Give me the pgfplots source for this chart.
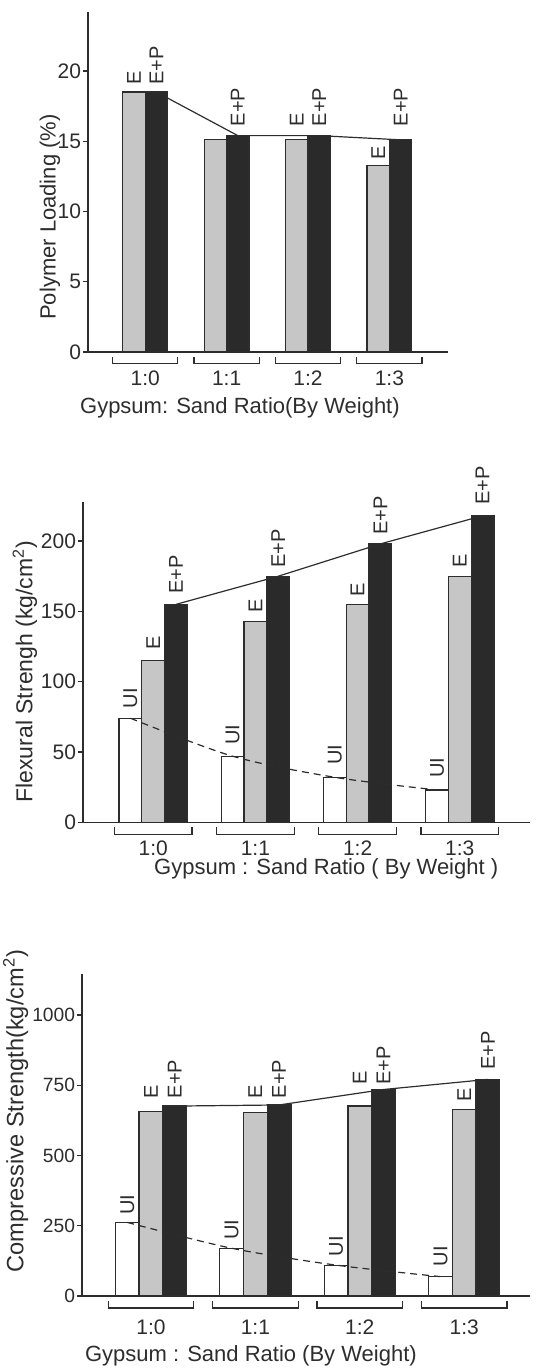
\documentclass[border=0pt]{standalone}
\usepackage{pgfplots}
\pgfplotsset{compat=1.18}
\usepackage{fontspec}
\setmainfont{Liberation Sans}
\definecolor{Egray}{RGB}{198,198,198}
\definecolor{EPdark}{RGB}{42,42,42}
\definecolor{ink}{RGB}{45,45,45}
\tikzset{brk/.style={ink, line width=0.6pt}}
\pgfplotsset{
  panel/.style={
    scale only axis,
    axis lines=left,
    axis line style={-, ink, line width=0.8pt},
    clip=false,
    xtick={0,1,2,3},
    xticklabels={1:0,1:1,1:2,1:3},
    xtick style={draw=none},
    ytick style={ink, line width=0.7pt},
    tick align=outside,
    major tick length=2.5pt,
    ymin=0,
    /pgf/number format/assume math mode=true,
    /pgf/number format/1000 sep={},
    tick label style={font=\fontsize{10.5}{12}\selectfont, text=ink},
    yticklabel style={inner xsep=0.8pt},
    label style={font=\fontsize{11}{13}\selectfont, text=ink},
    xticklabel style={anchor=center},
  },
  barUI/.style={ybar, bar shift=0pt, fill=white, draw=ink, line width=0.6pt},
  barE/.style={ybar, bar shift=0pt, fill=Egray, draw=ink, line width=0.6pt},
  barEP/.style={ybar, bar shift=0pt, fill=EPdark, draw=ink, line width=0.6pt},
  lab/.style={draw=none, mark=none, nodes near coords={#1},
    every node near coord/.append style={rotate=90, anchor=west, inner sep=0pt,
      font=\fontsize{10}{12}\selectfont, text=ink}},
  topline/.style={ink, line width=0.6pt, mark=none, sharp plot},
  uiline/.style={ink, line width=0.6pt, mark=none, smooth, dash pattern=on 3.5pt off 2.5pt},
}
\begin{document}
\begin{tikzpicture}
\useasboundingbox (0,0) rectangle (269.5pt,-684.5pt);
% ---------------- Panel 1 ----------------
\begin{axis}[panel,
  at={(44pt,-176pt)}, anchor=south west,
  width=180pt, height=170pt,
  xmin=-0.703, xmax=3.72, ymax=24.2,
  ytick={0,5,10,15,20},
  bar width=0.276,
  xticklabel style={yshift=-10.5pt},
  ylabel={Polymer Loading (\%)},
  ylabel style={at={(axis description cs:-0.106,0.397)}, anchor=center},
  xlabel={Gypsum: Sand Ratio(By Weight)},
  xlabel style={at={(axis description cs:0.422,-0.165)}, anchor=center},
]
\addplot[barE] coordinates {(-0.138,18.5) (0.862,15.1) (1.862,15.1) (2.862,13.25)};
\addplot[barEP] coordinates {(0.138,18.5) (1.138,15.4) (2.138,15.4) (3.138,15.1)};
\addplot[topline] coordinates {(0.138,18.5) (1.138,15.4) (2.138,15.4) (3.138,15.1)};
\addplot[lab=E] coordinates {(-0.138,19.0) (1.862,16.04) (2.862,13.67)};
\addplot[lab=E+P] coordinates {(0.138,19.0) (1.138,16.04) (2.138,16.04) (3.138,16.04)};
\draw[brk] ([yshift=-2.5pt]axis cs:-0.4,0) -- ([yshift=-5.8pt]axis cs:-0.4,0) -- ([yshift=-5.8pt]axis cs:0.4,0) -- ([yshift=-2.5pt]axis cs:0.4,0);
\draw[brk] ([yshift=-2.5pt]axis cs:0.6,0) -- ([yshift=-5.8pt]axis cs:0.6,0) -- ([yshift=-5.8pt]axis cs:1.4,0) -- ([yshift=-2.5pt]axis cs:1.4,0);
\draw[brk] ([yshift=-2.5pt]axis cs:1.6,0) -- ([yshift=-5.8pt]axis cs:1.6,0) -- ([yshift=-5.8pt]axis cs:2.4,0) -- ([yshift=-2.5pt]axis cs:2.4,0);
\draw[brk] ([yshift=-2.5pt]axis cs:2.6,0) -- ([yshift=-5.8pt]axis cs:2.6,0) -- ([yshift=-5.8pt]axis cs:3.4,0) -- ([yshift=-2.5pt]axis cs:3.4,0);
\end{axis}
% ---------------- Panel 2 ----------------
\begin{axis}[panel,
  at={(41.5pt,-411.15pt)}, anchor=south west,
  width=223.5pt, height=160.3pt,
  xmin=-0.687, xmax=3.687, ymax=228,
  ytick={0,50,100,150,200},
  bar width=0.223,
  xticklabel style={yshift=-10.5pt},
  ylabel={Flexural Strengh (kg/cm\textsuperscript{2})},
  ylabel style={at={(axis description cs:-0.13,0.47)}, anchor=center, font=\fontsize{11.5}{13}\selectfont},
  xlabel={Gypsum : Sand Ratio ( By Weight )},
  xlabel style={at={(axis description cs:0.544,-0.145)}, anchor=center},
]
\addplot[barUI] coordinates {(-0.223,74) (0.777,47) (1.777,32) (2.777,23)};
\addplot[barE] coordinates {(0,115) (1,143) (2,155) (3,175)};
\addplot[barEP] coordinates {(0.223,155) (1.223,175) (2.223,198) (3.223,218)};
\addplot[topline] coordinates {(0.223,155) (1.223,175) (2.223,198) (3.223,218)};
\addplot[uiline] coordinates {(-0.223,74) (0.777,47) (1.777,32) (2.777,23)};
\addplot[lab=UI] coordinates {(-0.223,81) (0.777,55) (1.777,40.8) (2.777,31.3)};
\addplot[lab=E] coordinates {(0,122.5) (1,148.6) (2,160.4) (3,180.6)};
\addplot[lab=E+P] coordinates {(0.223,162.3) (1.223,180.6) (2.223,204.3) (3.223,225.6)};
\draw[brk] ([yshift=-2.5pt]axis cs:-0.38,0) -- ([yshift=-6pt]axis cs:-0.38,0) -- ([yshift=-6pt]axis cs:0.38,0) -- ([yshift=-2.5pt]axis cs:0.38,0);
\draw[brk] ([yshift=-2.5pt]axis cs:0.62,0) -- ([yshift=-6pt]axis cs:0.62,0) -- ([yshift=-6pt]axis cs:1.38,0) -- ([yshift=-2.5pt]axis cs:1.38,0);
\draw[brk] ([yshift=-2.5pt]axis cs:1.62,0) -- ([yshift=-6pt]axis cs:1.62,0) -- ([yshift=-6pt]axis cs:2.38,0) -- ([yshift=-2.5pt]axis cs:2.38,0);
\draw[brk] ([yshift=-2.5pt]axis cs:2.62,0) -- ([yshift=-6pt]axis cs:2.62,0) -- ([yshift=-6pt]axis cs:3.38,0) -- ([yshift=-2.5pt]axis cs:3.38,0);
\end{axis}
% ---------------- Panel 3 ----------------
\begin{axis}[panel,
  at={(41pt,-648pt)}, anchor=south west,
  width=224pt, height=160.85pt,
  xmin=-0.66, xmax=3.63, ymax=1145,
  ytick={0,250,500,750,1000},
  yticklabel style={font=\fontsize{9.6}{11}\selectfont},
  bar width=0.227,
  xticklabel style={yshift=-13pt},
  ylabel={Compressive Strength(kg/cm\textsuperscript{2})},
  ylabel style={at={(axis description cs:-0.148,0.575)}, anchor=center, font=\fontsize{11.8}{14}\selectfont},
  xlabel={Gypsum : Sand Ratio (By Weight)},
  xlabel style={at={(axis description cs:0.377,-0.186)}, anchor=center},
]
\addplot[barUI] coordinates {(-0.227,262) (0.773,170) (1.773,110) (2.773,69)};
\addplot[barE] coordinates {(0,658) (1,652) (2,676) (3,665)};
\addplot[barEP] coordinates {(0.227,676) (1.227,680) (2.227,735) (3.227,771)};
\addplot[topline] coordinates {(0.227,676) (1.227,680) (2.227,735) (3.227,771)};
\addplot[uiline] coordinates {(-0.227,262) (0.773,170) (1.773,110) (2.773,69)};
\addplot[lab=UI] coordinates {(-0.227,288) (0.773,199) (1.773,140) (2.773,104)};
\addplot[lab=E] coordinates {(0,703) (1,703) (2,751) (3,692)};
\addplot[lab=E+P] coordinates {(0.227,703) (1.227,703) (2.227,751) (3.227,804)};
\draw[brk] ([yshift=-2.5pt]axis cs:-0.41,0) -- ([yshift=-6pt]axis cs:-0.41,0) -- ([yshift=-6pt]axis cs:0.41,0) -- ([yshift=-2.5pt]axis cs:0.41,0);
\draw[brk] ([yshift=-2.5pt]axis cs:0.59,0) -- ([yshift=-6pt]axis cs:0.59,0) -- ([yshift=-6pt]axis cs:1.41,0) -- ([yshift=-2.5pt]axis cs:1.41,0);
\draw[brk] ([yshift=-2.5pt]axis cs:1.59,0) -- ([yshift=-6pt]axis cs:1.59,0) -- ([yshift=-6pt]axis cs:2.41,0) -- ([yshift=-2.5pt]axis cs:2.41,0);
\draw[brk] ([yshift=-2.5pt]axis cs:2.59,0) -- ([yshift=-6pt]axis cs:2.59,0) -- ([yshift=-6pt]axis cs:3.41,0) -- ([yshift=-2.5pt]axis cs:3.41,0);
\end{axis}
\end{tikzpicture}
\end{document}
